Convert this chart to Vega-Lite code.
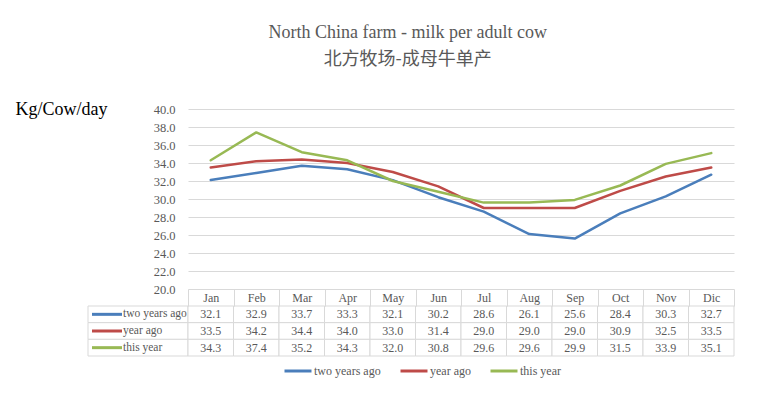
{
  "$schema": "https://vega.github.io/schema/vega-lite/v6.json",
  "padding": {"left": 15, "top": 24, "right": 5, "bottom": 5},
  "background": "white",
  "title": {
    "text": "North China farm - milk per adult cow",
    "subtitle": "北方牧场-成母牛单产",
    "font": "Liberation Serif",
    "fontSize": 18,
    "fontWeight": "normal",
    "color": "#595959",
    "subtitleFont": "Noto Sans CJK SC",
    "subtitleFontSize": 18,
    "subtitleColor": "#595959",
    "subtitlePadding": 9,
    "anchor": "middle",
    "dx": 33,
    "offset": 31
  },
  "datasets": {
    "milk": [
      {"month": "Jan", "series": "two years ago", "value": 32.1},
      {"month": "Feb", "series": "two years ago", "value": 32.9},
      {"month": "Mar", "series": "two years ago", "value": 33.7},
      {"month": "Apr", "series": "two years ago", "value": 33.3},
      {"month": "May", "series": "two years ago", "value": 32.1},
      {"month": "Jun", "series": "two years ago", "value": 30.2},
      {"month": "Jul", "series": "two years ago", "value": 28.6},
      {"month": "Aug", "series": "two years ago", "value": 26.1},
      {"month": "Sep", "series": "two years ago", "value": 25.6},
      {"month": "Oct", "series": "two years ago", "value": 28.4},
      {"month": "Nov", "series": "two years ago", "value": 30.3},
      {"month": "Dic", "series": "two years ago", "value": 32.7},
      {"month": "Jan", "series": "year ago", "value": 33.5},
      {"month": "Feb", "series": "year ago", "value": 34.2},
      {"month": "Mar", "series": "year ago", "value": 34.4},
      {"month": "Apr", "series": "year ago", "value": 34.0},
      {"month": "May", "series": "year ago", "value": 33.0},
      {"month": "Jun", "series": "year ago", "value": 31.4},
      {"month": "Jul", "series": "year ago", "value": 29.0},
      {"month": "Aug", "series": "year ago", "value": 29.0},
      {"month": "Sep", "series": "year ago", "value": 29.0},
      {"month": "Oct", "series": "year ago", "value": 30.9},
      {"month": "Nov", "series": "year ago", "value": 32.5},
      {"month": "Dic", "series": "year ago", "value": 33.5},
      {"month": "Jan", "series": "this year", "value": 34.3},
      {"month": "Feb", "series": "this year", "value": 37.4},
      {"month": "Mar", "series": "this year", "value": 35.2},
      {"month": "Apr", "series": "this year", "value": 34.3},
      {"month": "May", "series": "this year", "value": 32.0},
      {"month": "Jun", "series": "this year", "value": 30.8},
      {"month": "Jul", "series": "this year", "value": 29.6},
      {"month": "Aug", "series": "this year", "value": 29.6},
      {"month": "Sep", "series": "this year", "value": 29.9},
      {"month": "Oct", "series": "this year", "value": 31.5},
      {"month": "Nov", "series": "this year", "value": 33.9},
      {"month": "Dic", "series": "this year", "value": 35.1}
    ]
  },
  "columns": 2,
  "bounds": "flush",
  "align": "each",
  "spacing": {"row": 17, "column": 0},
  "resolve": {"scale": {"color": "shared", "x": "independent", "y": "independent"}},
  "concat": [
    {
      "width": 100,
      "height": 180,
      "data": {"values": []},
      "mark": "point"
    },
    {
      "width": 546,
      "height": 180,
      "data": {"name": "milk"},
      "mark": {"type": "line", "strokeWidth": 2.5, "strokeJoin": "round", "strokeCap": "round"},
      "encoding": {
        "x": {
          "field": "month",
          "type": "ordinal",
          "scale": {"type": "point", "padding": 0.5, "domain": ["Jan", "Feb", "Mar", "Apr", "May", "Jun", "Jul", "Aug", "Sep", "Oct", "Nov", "Dic"]},
          "axis": null
        },
        "y": {
          "field": "value",
          "type": "quantitative",
          "scale": {"domain": [20, 40], "nice": false, "zero": false},
          "axis": {
            "values": [20, 22, 24, 26, 28, 30, 32, 34, 36, 38, 40],
            "format": ".1f",
            "grid": true,
            "gridColor": "#d9d9d9",
            "domain": false,
            "ticks": false,
            "labelPadding": 13,
            "labelFont": "Liberation Sans Narrow",
            "labelFontSize": 12.5,
            "labelColor": "#595959",
            "title": "Kg/Cow/day",
            "titleAngle": 0,
            "titleAlign": "left",
            "titleBaseline": "middle",
            "titleX": -173,
            "titleY": 0,
            "titleFont": "Liberation Serif",
            "titleFontSize": 18,
            "titleFontWeight": "normal",
            "titleColor": "#000000"
          }
        },
        "color": {
          "field": "series",
          "type": "nominal",
          "scale": {"domain": ["two years ago", "year ago", "this year"], "range": ["#4A7EBB", "#BE4B48", "#98B954"]},
          "legend": {
            "orient": "none",
            "legendX": 195,
            "legendY": 247,
            "direction": "horizontal",
            "title": null,
            "symbolType": "stroke",
            "symbolSize": 729,
            "symbolStrokeWidth": 3,
            "labelFont": "Liberation Serif",
            "labelFontSize": 12,
            "labelColor": "#595959",
            "labelOffset": 1,
            "columnPadding": 13
          }
        }
      }
    },
    {
      "width": 100,
      "height": 50,
      "data": {"name": "milk"},
      "transform": [{"aggregate": [{"op": "count", "as": "n"}], "groupby": ["series"]}],
      "encoding": {
        "y": {
          "field": "series",
          "type": "nominal",
          "scale": {"type": "band", "domain": ["two years ago", "year ago", "this year"], "paddingInner": 0, "paddingOuter": 0},
          "axis": null
        }
      },
      "layer": [
        {"mark": {"type": "rect", "fill": "white", "stroke": "#d9d9d9", "strokeWidth": 1}},
        {
          "mark": {"type": "point", "shape": "stroke", "size": 900, "strokeWidth": 3, "opacity": 1, "xOffset": -31},
          "encoding": {"color": {"field": "series", "type": "nominal"}}
        },
        {
          "mark": {"type": "text", "align": "left", "baseline": "middle", "dx": -15, "font": "Liberation Serif", "fontSize": 11.5, "color": "#595959"},
          "encoding": {"text": {"field": "series", "type": "nominal"}}
        }
      ]
    },
    {
      "width": 546,
      "height": 50,
      "data": {"name": "milk"},
      "encoding": {
        "x": {
          "field": "month",
          "type": "ordinal",
          "scale": {"type": "band", "paddingInner": 0, "paddingOuter": 0, "domain": ["Jan", "Feb", "Mar", "Apr", "May", "Jun", "Jul", "Aug", "Sep", "Oct", "Nov", "Dic"]},
          "axis": {
            "orient": "top",
            "title": null,
            "domain": false,
            "ticks": true,
            "tickBand": "extent",
            "tickExtra": true,
            "tickSize": 17,
            "tickColor": "#d9d9d9",
            "labelAngle": 0,
            "labelBaseline": "middle",
            "labelPadding": -8.5,
            "labelFont": "Liberation Serif",
            "labelFontSize": 12,
            "labelColor": "#595959"
          }
        },
        "y": {
          "field": "series",
          "type": "nominal",
          "scale": {"type": "band", "domain": ["two years ago", "year ago", "this year"], "paddingInner": 0, "paddingOuter": 0},
          "axis": null
        }
      },
      "layer": [
        {"mark": {"type": "rect", "fill": "white", "stroke": "#d9d9d9", "strokeWidth": 1}},
        {
          "mark": {"type": "text", "align": "center", "baseline": "middle", "font": "Liberation Serif", "fontSize": 12, "color": "#595959"},
          "encoding": {"text": {"field": "value", "type": "quantitative", "format": ".1f"}}
        }
      ]
    }
  ],
  "config": {
    "view": {"stroke": null},
    "axis": {"labelFontWeight": "normal"}
  }
}
